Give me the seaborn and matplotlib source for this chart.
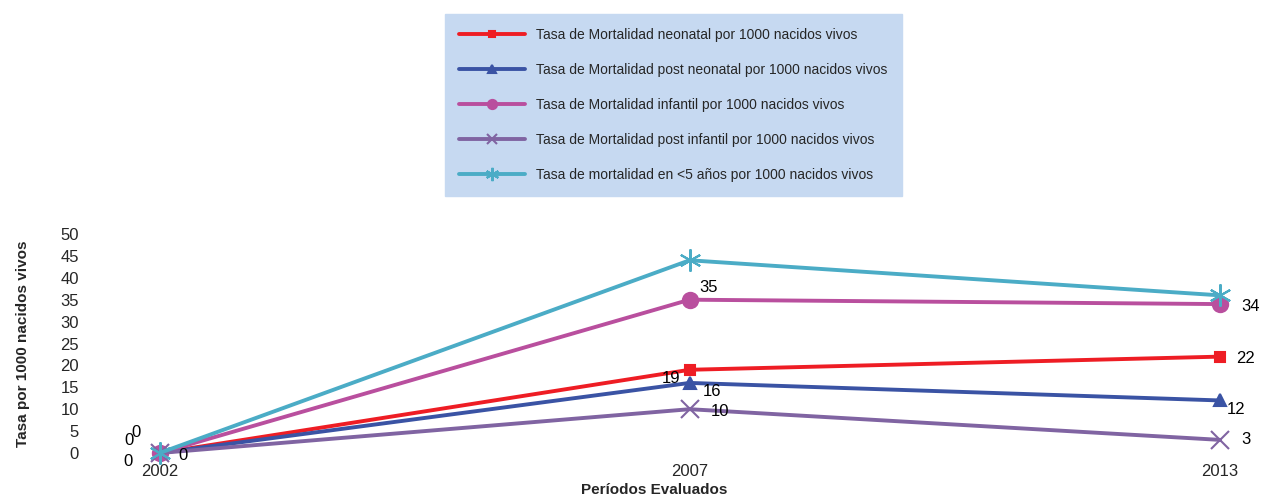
import pandas as pd
import matplotlib
matplotlib.use("Agg")
import matplotlib.pyplot as plt
import seaborn as sns

periodos = ["2002", "2007", "2013"]
neonatal = [0, 19, 22]
post_neonatal = [0, 16, 12]
infantil = [0, 35, 34]
post_infantil = [0, 10, 3]
menores_5 = [0, 44, 36]

nombres = [
    "Tasa de Mortalidad neonatal por 1000 nacidos vivos",
    "Tasa de Mortalidad post neonatal por 1000 nacidos vivos",
    "Tasa de Mortalidad infantil por 1000 nacidos vivos",
    "Tasa de Mortalidad post infantil por 1000 nacidos vivos",
    "Tasa de mortalidad en <5 años por 1000 nacidos vivos",
]
series = [neonatal, post_neonatal, infantil, post_infantil, menores_5]
colores = ["#EE1D24", "#3A53A4", "#B94F9E", "#8064A2", "#4BACC6"]
marcadores = ["s", "^", "o", "x", (6, 2, 0)]
tamanos = [7, 9, 11, 13, 16]
mostrar_etiquetas = [True, True, True, True, False]

# desplazamientos de las etiquetas (puntos)
offsets = [
    [(-22, 9), (-13, -6), (19, -1.5)],
    [(-23, -6), (16, -6.5), (12, -6.5)],
    [(-17, 15), (14, 9), (22, -2)],
    [(17, -1.5), (22, -2), (19, 0)],
    [(0, 0), (0, 0), (0, 0)],
]

filas = []
for nombre, valores in zip(nombres, series):
    for p, v in zip(periodos, valores):
        filas.append({"Periodo": p, "Tasa": v, "Serie": nombre})
df = pd.DataFrame(filas)

sns.set_style("white")
plt.rcParams["font.family"] = ["Liberation Sans", "DejaVu Sans"]

fig = plt.figure(figsize=(12.65, 5), dpi=100)
ax = fig.add_axes([0.047, 0.094, 0.941, 0.438])

for i, nombre in enumerate(nombres):
    d = df[df["Serie"] == nombre]
    sns.lineplot(data=d, x="Periodo", y="Tasa", ax=ax, color=colores[i],
                 marker=marcadores[i], markersize=tamanos[i], linewidth=2.8,
                 markeredgecolor=colores[i], markeredgewidth=1.5,
                 label=nombre, clip_on=False, zorder=3)
    if mostrar_etiquetas[i]:
        for j, v in enumerate(series[i]):
            ax.annotate(str(v), (j, v), xytext=offsets[i][j],
                        textcoords="offset points", ha="center", va="center",
                        fontsize=12, color="black")

ax.set_xlim(-0.189, 2.057)
ax.set_ylim(0, 50)
ax.set_yticks(range(0, 51, 5))
for s in ax.spines.values():
    s.set_visible(False)
ax.tick_params(axis="both", length=0, labelsize=12, pad=8)
ax.tick_params(axis="y", pad=-14)
ax.set_xlabel("Períodos Evaluados", fontsize=11, fontweight="bold", labelpad=3)
ax.set_ylabel("Tasa por 1000 nacidos vivos", fontsize=11, fontweight="bold", labelpad=0)
ax.yaxis.set_label_coords(-0.025, 0.5)

h, l = ax.get_legend_handles_labels()
ax.get_legend().remove()
leg = fig.legend(h, l, loc="upper left", bbox_to_anchor=(0.346, 0.985),
                 fontsize=10, handlelength=4.8, labelspacing=1.5,
                 borderpad=1.0, frameon=True, fancybox=False,
                 markerscale=0.6)
leg.get_frame().set_facecolor("#C6D9F1")
leg.get_frame().set_edgecolor("#C6D9F1")
leg.get_frame().set_alpha(1)

fig.savefig("out.png", dpi=100)
